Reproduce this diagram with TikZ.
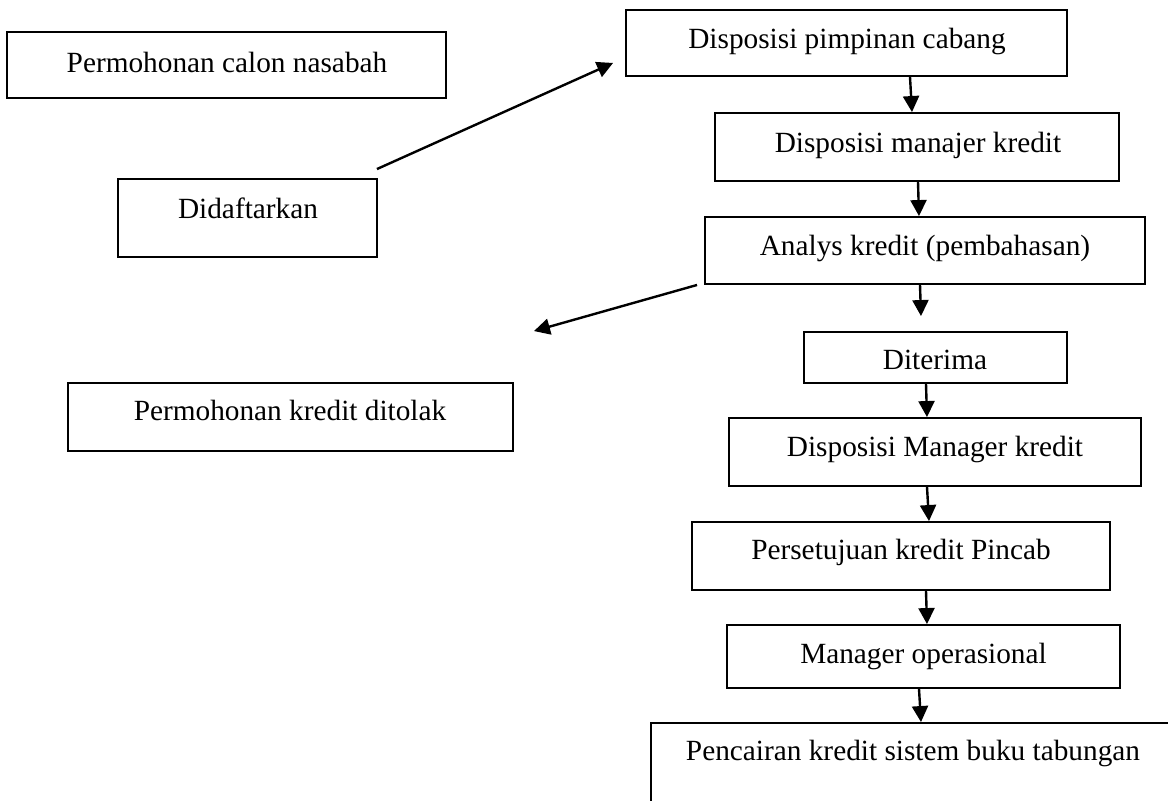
\documentclass[tikz,border=0pt]{standalone}
\usepackage{fontspec}
\setmainfont{Liberation Serif}
\usetikzlibrary{arrows.meta,calc}
\begin{document}
\begin{tikzpicture}[x=0.5pt,y=-0.5pt,
  box/.style={draw, line width=0.95pt, inner sep=0pt},
  txt/.style={inner sep=0pt, anchor=base, font=\fontsize{14.65}{17}\selectfont},
  arr/.style={line width=1.2pt, -{Triangle[length=8pt,width=8pt]}}]
\useasboundingbox (0,0) rectangle (1168,800);
\clip (0,0) rectangle (1168,800);
% boxes
\node[box, minimum width=219.5pt, minimum height=33pt]   (calon)    at (226.5,65) {};
\node[box, minimum width=129.5pt, minimum height=39pt]   (daftar)   at (247.5,218) {};
\node[box, minimum width=220.5pt, minimum height=33pt]   (pimpinan) at (846.5,43) {};
\node[box, minimum width=202pt,   minimum height=34pt]   (manajer)  at (917,147) {};
\node[box, minimum width=220pt,   minimum height=33.5pt] (analys)   at (925,250.5) {};
\node[box, minimum width=222.5pt, minimum height=34pt]   (tolak)    at (290.5,417) {};
\node[box, minimum width=131.5pt, minimum height=25.5pt] (diterima) at (935.5,357.5) {};
\node[box, minimum width=206pt,   minimum height=34pt]   (mkredit)  at (935,452) {};
\node[box, minimum width=209pt,   minimum height=34pt]   (setuju)   at (901,556) {};
\node[box, minimum width=196.5pt, minimum height=31.5pt] (mops)     at (923.5,656.5) {};
\node[box, minimum width=274.5pt, minimum height=53.5pt] (cair)     at (925.5,776.5) {};
% texts
\node[txt] (calon-t)    at (227,72)    {Permohonan calon nasabah};
\node[txt] (daftar-t)   at (248,218)   {Didaftarkan};
\node[txt] (pimpinan-t) at (847,48)    {Disposisi pimpinan cabang};
\node[txt] (manajer-t)  at (918,152)   {Disposisi manajer kredit};
\node[txt] (analys-t)   at (925,255)   {Analys kredit (pembahasan)};
\node[txt] (tolak-t)    at (290,420)   {Permohonan kredit ditolak};
\node[txt] (diterima-t) at (935,369)   {Diterima};
\node[txt] (mkredit-t)  at (935,456)   {Disposisi Manager kredit};
\node[txt] (setuju-t)   at (901,559)   {Persetujuan kredit Pincab};
\node[txt] (mops-t)     at (923.5,663) {Manager operasional};
\node[txt] (cair-t)     at (913,760)   {Pencairan kredit sistem buku tabungan};
% connectors
\draw[arr] ($(daftar.north east)+(-1,-9)$) -- ($(pimpinan.south west)+(-12,-14)$);
\draw[arr] ($(pimpinan.south)+(63.5,0)$) -- ($(manajer.north)+(-5,0)$);
\draw[arr] ($(manajer.south)+(1,0)$) -- ($(analys.north)+(-6,0)$);
\draw[arr] ($(analys.south west)+(-7,0)$) -- ($(tolak.north east)+(20,-51)$);
\draw[arr] ($(analys.south)+(-5,0)$) -- ($(diterima.north)+(-14.5,-15)$);
\draw[arr] ($(diterima.south)+(-9.5,0)$) -- ($(mkredit.north)+(-8,0)$);
\draw[arr] ($(mkredit.south)+(-8,0)$) -- ($(setuju.north)+(28,0)$);
\draw[arr] ($(setuju.south)+(25,0)$) -- ($(mops.north)+(3.5,0)$);
\draw[arr] ($(mops.south)+(-4.5,0)$) -- ($(cair.north)+(-4.5,0)$);
\end{tikzpicture}
\end{document}
